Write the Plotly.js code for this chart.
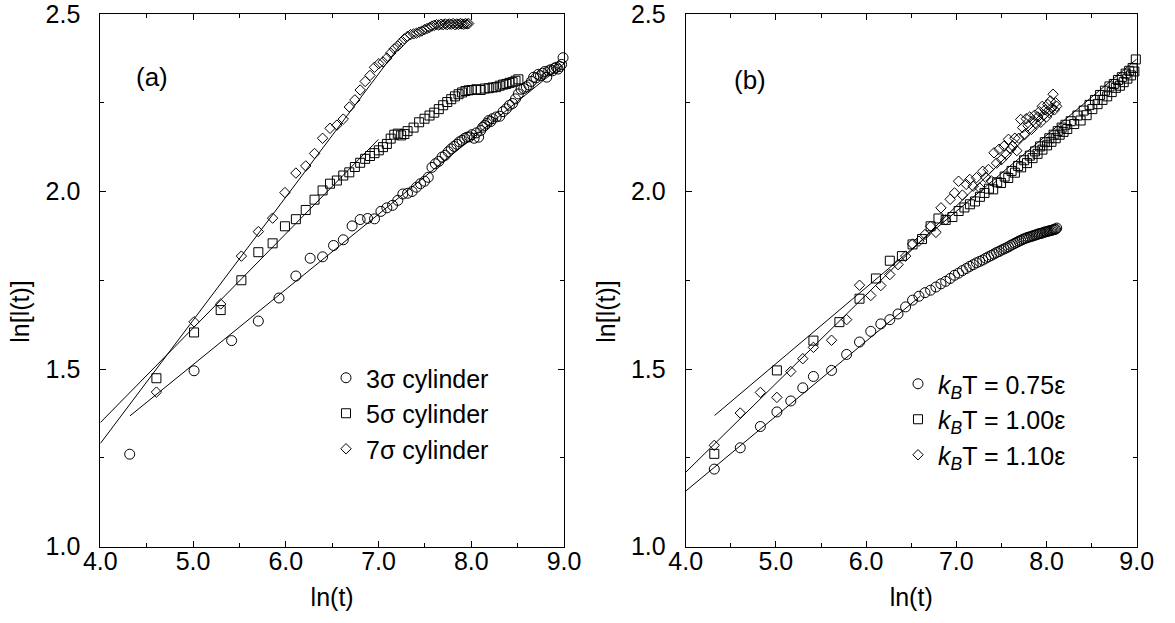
<!DOCTYPE html>
<html>
<head>
<meta charset="utf-8">
<script src="https://cdn.plot.ly/plotly-3.0.1.min.js"></script>
<style>html,body{margin:0;padding:0;background:#fff;}#chart{width:1175px;height:623px;}</style>
</head>
<body>
<div id="chart"></div>
<script>
// ---------- Panel (a) data ----------
const a3x = [4.317,5.011,5.416,5.704,5.927,6.109,6.263,6.397,6.515,6.620,6.715,6.802,6.882,6.957,7.026,7.090,7.151,7.208,7.262,7.313,7.362,7.409,7.453,7.496,7.536,7.576,7.613,7.650,7.685,7.719,7.752,7.784,7.815,7.845,7.873,7.901,7.929,7.955,7.981,8.006,8.031,8.055,8.079,8.102,8.124,8.146,8.168,8.189,8.210,8.230,8.269,8.307,8.343,8.378,8.412,8.445,8.477,8.508,8.537,8.566,8.594,8.621,8.648,8.673,8.698,8.723,8.746,8.769,8.792,8.814,8.835,8.856,8.877,8.897,8.917,8.936,8.955,8.974,8.990];
const a3y = [1.260,1.495,1.580,1.635,1.700,1.762,1.812,1.816,1.848,1.864,1.903,1.921,1.924,1.923,1.944,1.954,1.961,1.975,1.993,1.995,2.000,2.012,2.022,2.029,2.040,2.068,2.078,2.085,2.097,2.102,2.112,2.120,2.127,2.133,2.140,2.144,2.150,2.153,2.154,2.160,2.150,2.165,2.153,2.172,2.181,2.186,2.192,2.200,2.197,2.205,2.210,2.212,2.225,2.233,2.243,2.248,2.261,2.275,2.288,2.290,2.295,2.300,2.310,2.322,2.320,2.330,2.326,2.333,2.338,2.322,2.340,2.343,2.340,2.347,2.350,2.345,2.352,2.358,2.377];

const a5x = [4.605,5.011,5.298,5.521,5.704,5.858,5.991,6.109,6.215,6.310,6.397,6.477,6.551,6.620,6.685,6.745,6.802,6.856,6.908,6.957,7.003,7.048,7.090,7.131,7.170,7.208,7.244,7.279,7.313,7.378,7.438,7.496,7.550,7.601,7.650,7.697,7.741,7.784,7.824,7.863,7.901,7.937,7.972,8.006,8.055,8.102,8.146,8.189,8.230,8.269,8.307,8.343,8.378,8.412,8.445,8.477,8.508];
const a5y = [1.474,1.603,1.666,1.750,1.829,1.854,1.902,1.922,1.948,1.977,2.003,2.022,2.031,2.045,2.054,2.069,2.081,2.092,2.100,2.108,2.116,2.125,2.134,2.149,2.160,2.163,2.158,2.162,2.170,2.180,2.195,2.205,2.214,2.222,2.232,2.243,2.252,2.260,2.268,2.274,2.279,2.283,2.285,2.286,2.288,2.286,2.290,2.291,2.293,2.294,2.298,2.301,2.303,2.306,2.308,2.312,2.316];

const a7x = [4.605,5.011,5.298,5.521,5.704,5.858,5.991,6.109,6.215,6.310,6.397,6.477,6.551,6.620,6.685,6.745,6.802,6.856,6.908,6.957,7.003,7.048,7.090,7.131,7.170,7.208,7.244,7.279,7.313,7.346,7.378,7.409,7.438,7.467,7.496,7.523,7.550,7.576,7.601,7.626,7.650,7.674,7.697,7.719,7.741,7.763,7.784,7.805,7.824,7.844,7.863,7.882,7.901,7.919,7.937,7.955,7.972];
const a7y = [1.435,1.633,1.683,1.818,1.887,1.925,1.997,2.052,2.072,2.107,2.150,2.178,2.187,2.204,2.238,2.258,2.286,2.310,2.327,2.350,2.360,2.365,2.376,2.390,2.402,2.410,2.420,2.430,2.437,2.442,2.444,2.446,2.449,2.452,2.456,2.459,2.462,2.466,2.468,2.470,2.469,2.471,2.470,2.472,2.470,2.472,2.471,2.473,2.470,2.472,2.471,2.473,2.472,2.471,2.473,2.472,2.473];

// fitted lines, panel (a): [start, end]
const fitA3x = [4.32, 9.0],  fitA3y = [1.368, 2.360];
const fitA5x = [4.0, 7.0],   fitA5y = [1.349, 2.147];
const fitA7x = [4.0, 7.25],  fitA7y = [1.290, 2.418];

// ---------- Panel (b) data ----------
const bTx = [4.317,4.605,4.828,5.011,5.165,5.298,5.416,5.617,5.784,5.927,6.052,6.163,6.263,6.354,6.438,6.515,6.586,6.653,6.715,6.774,6.830,6.882,6.932,6.980,7.025,7.068,7.110,7.149,7.187,7.224,7.259,7.293,7.326,7.357,7.388,7.418,7.446,7.474,7.501,7.528,7.553,7.578,7.602,7.626,7.649,7.671,7.693,7.714,7.735,7.756,7.776,7.795,7.814,7.833,7.851,7.869,7.887,7.904,7.921,7.937,7.953,7.969,7.985,8.000,8.015,8.030,8.044,8.059,8.073,8.087,8.100,8.113];
const b075y = [1.218,1.278,1.338,1.379,1.410,1.447,1.479,1.496,1.541,1.576,1.606,1.627,1.639,1.655,1.675,1.694,1.705,1.715,1.722,1.731,1.740,1.747,1.755,1.764,1.770,1.777,1.783,1.789,1.794,1.799,1.803,1.807,1.812,1.816,1.820,1.824,1.828,1.831,1.835,1.838,1.841,1.844,1.848,1.851,1.854,1.857,1.860,1.862,1.865,1.867,1.869,1.871,1.872,1.874,1.875,1.877,1.878,1.880,1.881,1.882,1.883,1.885,1.886,1.887,1.888,1.889,1.890,1.891,1.892,1.893,1.894,1.897];
const b110y = [1.285,1.376,1.434,1.420,1.493,1.529,1.561,1.581,1.639,1.736,1.707,1.735,1.766,1.794,1.818,1.852,1.860,1.879,1.902,1.885,1.954,1.920,1.978,1.996,2.029,1.990,2.020,2.034,2.015,2.039,2.010,2.057,2.040,2.062,2.030,2.109,2.080,2.119,2.090,2.128,2.104,2.147,2.120,2.128,2.150,2.115,2.150,2.203,2.180,2.160,2.205,2.185,2.210,2.175,2.200,2.215,2.190,2.210,2.225,2.195,2.240,2.215,2.230,2.210,2.245,2.222,2.255,2.235,2.274,2.230,2.250,2.240];

const b100x = [4.317,5.011,5.416,5.704,5.927,6.109,6.263,6.397,6.515,6.620,6.715,6.802,6.882,6.957,7.026,7.090,7.151,7.208,7.262,7.313,7.362,7.409,7.453,7.496,7.536,7.576,7.613,7.650,7.685,7.719,7.752,7.784,7.815,7.845,7.873,7.901,7.929,7.955,7.981,8.006,8.031,8.055,8.079,8.102,8.124,8.146,8.168,8.189,8.210,8.230,8.269,8.307,8.343,8.378,8.412,8.445,8.477,8.508,8.537,8.566,8.594,8.621,8.648,8.673,8.698,8.723,8.746,8.769,8.792,8.814,8.835,8.856,8.877,8.897,8.917,8.936,8.955,8.974,8.990];
const b100y = [1.261,1.496,1.580,1.632,1.698,1.755,1.805,1.818,1.851,1.866,1.902,1.924,1.920,1.928,1.945,1.955,1.964,1.972,1.985,1.996,2.008,2.006,2.026,2.024,2.042,2.038,2.058,2.053,2.072,2.068,2.088,2.080,2.101,2.094,2.113,2.106,2.127,2.118,2.139,2.130,2.150,2.140,2.160,2.150,2.170,2.160,2.180,2.168,2.188,2.176,2.198,2.190,2.214,2.200,2.228,2.215,2.244,2.232,2.258,2.246,2.272,2.258,2.284,2.268,2.296,2.280,2.303,2.292,2.314,2.298,2.322,2.308,2.332,2.318,2.340,2.327,2.348,2.338,2.372];

// fitted lines, panel (b)
const fitB075x = [4.0, 6.6],  fitB075y = [1.156, 1.705];
const fitB100x = [4.32, 9.0], fitB100y = [1.369, 2.373];
const fitB110x = [4.0, 8.1],  fitB110y = [1.209, 2.234];

const legendA = ['3σ cylinder', '5σ cylinder', '7σ cylinder'];
const legendB = ['<i>k</i><sub><i>B</i></sub>T = 0.75ε', '<i>k</i><sub><i>B</i></sub>T = 1.00ε', '<i>k</i><sub><i>B</i></sub>T = 1.10ε'];
const xTitle = 'ln(t)';
const yTitle = 'ln[l(t)]';

const FONT = 'Liberation Sans, Arial, Helvetica, sans-serif';
const FS = 25;

function pts(x, y, sym, size, name, xa, ya, leg) {
  return {x: x, y: y, type: 'scatter', mode: 'markers', name: name,
    xaxis: xa, yaxis: ya, legend: leg, cliponaxis: false,
    marker: {symbol: sym, size: size, color: 'black', line: {color: 'black', width: 1}}};
}
function fit(x, y, xa, ya) {
  return {x: x, y: y, type: 'scatter', mode: 'lines', showlegend: false,
    xaxis: xa, yaxis: ya, line: {color: 'black', width: 1}, hoverinfo: 'skip'};
}

const data = [
  pts(a3x, a3y, 'circle-open', 10, legendA[0], 'x', 'y', 'legend'),
  pts(a5x, a5y, 'square-open', 9, legendA[1], 'x', 'y', 'legend'),
  pts(a7x, a7y, 'diamond-open', 8, legendA[2], 'x', 'y', 'legend'),
  fit(fitA3x, fitA3y, 'x', 'y'),
  fit(fitA5x, fitA5y, 'x', 'y'),
  fit(fitA7x, fitA7y, 'x', 'y'),
  pts(bTx, b075y, 'circle-open', 10, legendB[0], 'x2', 'y2', 'legend2'),
  pts(b100x, b100y, 'square-open', 9, legendB[1], 'x2', 'y2', 'legend2'),
  pts(bTx, b110y, 'diamond-open', 8, legendB[2], 'x2', 'y2', 'legend2'),
  fit(fitB075x, fitB075y, 'x2', 'y2'),
  fit(fitB100x, fitB100y, 'x2', 'y2'),
  fit(fitB110x, fitB110y, 'x2', 'y2')
];

function xax(domain, anchor) {
  return {domain: domain, anchor: anchor, range: [4, 9], tickmode: 'linear', tick0: 4, dtick: 1,
    tickformat: '.1f', ticks: 'inside', ticklen: 6, tickwidth: 1, tickcolor: 'black',
    minor: {dtick: 0.5, tick0: 4, ticks: 'inside', ticklen: 4, tickwidth: 1, tickcolor: 'black'},
    showline: true, linecolor: 'black', linewidth: 1, mirror: 'ticks',
    showgrid: false, zeroline: false, ticklabelstandoff: -8, ticklabeloverflow: 'allow',
    tickfont: {family: FONT, size: FS, color: 'black'},
    title: {text: xTitle, font: {family: FONT, size: FS, color: 'black'}, standoff: 14}};
}
function yax(domain, anchor) {
  return {domain: domain, anchor: anchor, range: [1, 2.5], tickmode: 'linear', tick0: 1, dtick: 0.5,
    tickformat: '.1f', ticks: 'inside', ticklen: 6, tickwidth: 1, tickcolor: 'black',
    minor: {dtick: 0.25, tick0: 1, ticks: 'inside', ticklen: 4, tickwidth: 1, tickcolor: 'black'},
    showline: true, linecolor: 'black', linewidth: 1, mirror: 'ticks',
    showgrid: false, zeroline: false, ticklabelstandoff: 14, ticklabeloverflow: 'allow',
    tickfont: {family: FONT, size: FS, color: 'black'},
    title: {text: yTitle + '&nbsp;&nbsp;&nbsp;&nbsp;&nbsp;&nbsp;&nbsp;&nbsp;&nbsp;', font: {family: FONT, size: FS, color: 'black'}, standoff: 8}};
}

const layout = {
  width: 1175, height: 623,
  margin: {l: 0, r: 0, t: 0, b: 0},
  paper_bgcolor: 'white', plot_bgcolor: 'white',
  font: {family: FONT, size: FS, color: 'black'},
  showlegend: true,
  xaxis: xax([100.3/1175, 564/1175], 'y'),
  yaxis: yax([1 - 546.5/623, 1 - 14/623], 'x'),
  xaxis2: xax([685.7/1175, 1136.7/1175], 'y2'),
  yaxis2: yax([1 - 546.5/623, 1 - 14/623], 'x2'),
  legend: {x: 326/1175, y: 1 - 355/623, xanchor: 'left', yanchor: 'top',
    bgcolor: 'rgba(0,0,0,0)', borderwidth: 0, font: {family: FONT, size: FS, color: 'black'},
    tracegroupgap: 0, itemclick: false},
  legend2: {x: 898/1175, y: 1 - 361/623, xanchor: 'left', yanchor: 'top',
    bgcolor: 'rgba(0,0,0,0)', borderwidth: 0, font: {family: FONT, size: FS, color: 'black'},
    tracegroupgap: 0, itemclick: false},
  annotations: [
    {text: '(a)', xref: 'paper', yref: 'paper', x: 152/1175, y: 1 - 77/623,
     xanchor: 'center', yanchor: 'middle', showarrow: false, font: {family: FONT, size: 26, color: 'black'}},
    {text: '(b)', xref: 'paper', yref: 'paper', x: 750/1175, y: 1 - 80/623,
     xanchor: 'center', yanchor: 'middle', showarrow: false, font: {family: FONT, size: 26, color: 'black'}}
  ]
};

Plotly.newPlot('chart', data, layout, {staticPlot: true, displayModeBar: false});
</script>
</body>
</html>
